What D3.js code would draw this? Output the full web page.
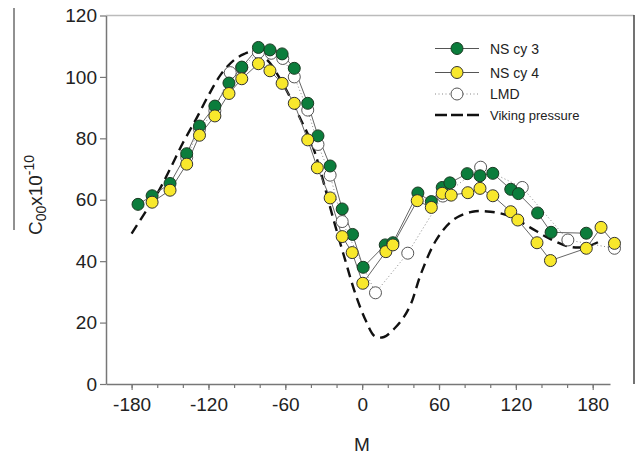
<!DOCTYPE html>
<html>
<head>
<meta charset="utf-8">
<script src="https://cdn.jsdelivr.net/npm/d3@7"></script>
<style>
  body { margin: 0; background: #fff; }
  svg { font-family: "Liberation Sans", Arial, sans-serif; }
</style>
</head>
<body>
<svg width="639" height="456"></svg>
<script>
// NS cy 3 (green)
const mGreen = [-175,-164,-150,-137,-127,-115,-104,-94,-81,-72,-62.5,-53,-42.5,-34.5,-25,-15.6,-7.5,0.8,18,24,43.5,54,62.5,68.5,82,92,102,116,122,137,147.5,175];
const vGreen = [58.5,61.3,65.3,75,84,90.5,98,103.2,109.6,108.8,107.5,102.8,91.4,80.8,71,57,48.7,38,45.3,46,62.2,59.4,64,65.5,68.5,67.8,68.6,63.4,62,55.7,49.4,49.1];

// NS cy 4 (yellow)
const mYellow = [-164,-150,-137,-127,-115,-104,-94,-81,-72,-62.5,-53,-42.5,-35,-25,-15.6,-7.8,0.5,18.5,24,43,54,62.5,69.5,82.5,92,102,116,121.5,136.5,147,175,186.5,197];
const vYellow = [59.2,63.1,71.6,81,87.3,94.6,99.4,104.3,102,97.9,91.4,79.5,70.4,60.6,48,42.8,32.8,43.1,45.3,59.7,57.5,62.1,61.5,62.3,63.7,61.3,56.1,53.4,46,40.2,44.2,51,45.8];

// LMD (open circles)
const mLMD = [-137,-127,-115,-103,-94,-81,-71,-62,-53,-42.5,-34.5,-25,-15.6,10.4,35.6,63,92.5,125,160.6,197];
const vLMD = [73.8,83,89,101.4,103,108,107.7,106,100,89.2,78,68,52.9,29.7,42.6,61.2,70.6,64,46.9,44.2];

// Viking pressure (dashed)
const mViking = [-180,-170,-160,-150,-140,-130,-120,-110,-100,-92,-85,-79,-72,-65,-57,-49,-40,-33,-23,-13,-5,3,10,17,25,32,38,46,58,71,86,100,115,131,146,162,175,188];
const vViking = [49,55.5,62,70,78.5,86,94,101,105.5,107.5,108.3,107.2,104.5,100,94,87,79,70,54.5,40,29,20.5,15.5,15.3,18,21.5,26,36,47,53.4,56.1,56.1,54.7,51,47.4,44.7,44.7,47];

const xMajor = [-180,-120,-60,0,60,120,180];
const xMinor = d3.range(-180, 181, 20);
const yTicks = [0,20,40,60,80,100,120];

const svg = d3.select("svg");
const x = d3.scaleLinear().domain([-200, 193.5]).range([106, 610]);
const y = d3.scaleLinear().domain([0, 120]).range([384, 15.5]);

const zip = (a, b) => a.map((d, i) => [d, b[i]]);
const line = d3.line().x(d => x(d[0])).y(d => y(d[1]));

// frame bits
svg.append("line").attr("x1", 106).attr("x2", 634).attr("y1", 15.5).attr("y2", 15.5)
    .attr("stroke", "#bbb").attr("stroke-width", 1.5);
svg.append("line").attr("x1", 634).attr("x2", 634).attr("y1", 15).attr("y2", 384)
    .attr("stroke", "#444").attr("stroke-width", 1.5);

// axes (plain hyphen for negatives, like the original)
const gx = svg.append("g").attr("transform", "translate(0,384)")
    .call(d3.axisBottom(x).tickValues(xMajor).tickSize(6).tickSizeOuter(0).tickFormat(d => String(d)));
svg.append("g").attr("transform", "translate(0,384)")
    .call(d3.axisBottom(x).tickValues(xMinor).tickSize(4).tickSizeOuter(0).tickFormat(""))
    .select(".domain").remove();
gx.selectAll("text").attr("font-size", 19).attr("dy", "0.95em").attr("fill", "#222")
    .attr("font-family", "Liberation Sans, Arial, sans-serif");

const gy = svg.append("g").attr("transform", "translate(106,0)")
    .call(d3.axisLeft(y).tickValues(yTicks).tickSize(6).tickSizeOuter(0));
gy.selectAll("text").attr("font-size", 19).attr("fill", "#222").attr("x", -9)
    .attr("font-family", "Liberation Sans, Arial, sans-serif");

svg.selectAll(".domain").attr("stroke", "#777").attr("stroke-width", 1.5);
svg.selectAll(".tick line").attr("stroke", "#777").attr("stroke-width", 1.2);

// axis titles
svg.append("text").attr("x", 362).attr("y", 451).attr("text-anchor", "middle")
    .attr("font-size", 19).attr("fill", "#222").text("M");

const yl = svg.append("text").attr("transform", "translate(42,195) rotate(-90)")
    .attr("text-anchor", "middle").attr("font-size", 19).attr("fill", "#222");
yl.append("tspan").text("C");
yl.append("tspan").attr("font-size", 14).attr("dy", 4).text("00");
yl.append("tspan").attr("dy", -4).text("x10");
yl.append("tspan").attr("font-size", 14).attr("dy", -8).text("-10");
svg.append("line").attr("x1", 14).attr("x2", 14).attr("y1", 8).attr("y2", 230)
    .attr("stroke", "#222").attr("stroke-width", 1);

// Viking pressure curve
svg.append("path").datum(zip(mViking, vViking))
    .attr("d", line.curve(d3.curveCatmullRom.alpha(0.5)))
    .attr("fill", "none").attr("stroke", "#111").attr("stroke-width", 2.4)
    .attr("stroke-dasharray", "10,6");

line.curve(d3.curveLinear);

// series lines
svg.append("path").datum(zip(mLMD, vLMD)).attr("d", line)
    .attr("fill", "none").attr("stroke", "#888").attr("stroke-width", 1).attr("stroke-dasharray", "1,2.5");
svg.append("path").datum(zip(mGreen, vGreen)).attr("d", line)
    .attr("fill", "none").attr("stroke", "#666").attr("stroke-width", 1);
svg.append("path").datum(zip(mYellow, vYellow)).attr("d", line)
    .attr("fill", "none").attr("stroke", "#666").attr("stroke-width", 1);

function dots(ms, vs, fill, stroke) {
    svg.append("g").selectAll("circle").data(zip(ms, vs)).join("circle")
        .attr("cx", d => x(d[0])).attr("cy", d => y(d[1])).attr("r", 6)
        .attr("fill", fill).attr("stroke", stroke).attr("stroke-width", 1);
}
dots(mLMD, vLMD, "#fff", "#555");
dots(mGreen, vGreen, "#0b7d3c", "#1a3a22");
dots(mYellow, vYellow, "#f8e82c", "#333");

// legend
const legend = [
    {name: "NS cy 3", fill: "#0b7d3c", stroke: "#1a3a22", dash: null, lc: "#555", size: 14},
    {name: "NS cy 4", fill: "#f8e82c", stroke: "#333", dash: null, lc: "#555", size: 14},
    {name: "LMD", fill: "#fff", stroke: "#555", dash: "1,2.5", lc: "#888", size: 14},
    {name: "Viking pressure", fill: null, stroke: null, dash: "12,4", lc: "#111", size: 13}
];
const ly = [48.5, 72.5, 94, 115];
const lg = svg.append("g").selectAll("g").data(legend).join("g")
    .attr("transform", (d, i) => `translate(0,${ly[i]})`);
lg.append("line").attr("x1", 435).attr("x2", 479)
    .attr("stroke", d => d.lc).attr("stroke-width", d => d.fill ? 1 : 2.4)
    .attr("stroke-dasharray", d => d.dash);
lg.filter(d => d.fill).append("circle").attr("cx", 457).attr("r", 6)
    .attr("fill", d => d.fill).attr("stroke", d => d.stroke);
lg.append("text").attr("x", 490).attr("dy", "0.36em")
    .attr("font-size", d => d.size).attr("fill", "#222").text(d => d.name);
</script>
</body>
</html>
